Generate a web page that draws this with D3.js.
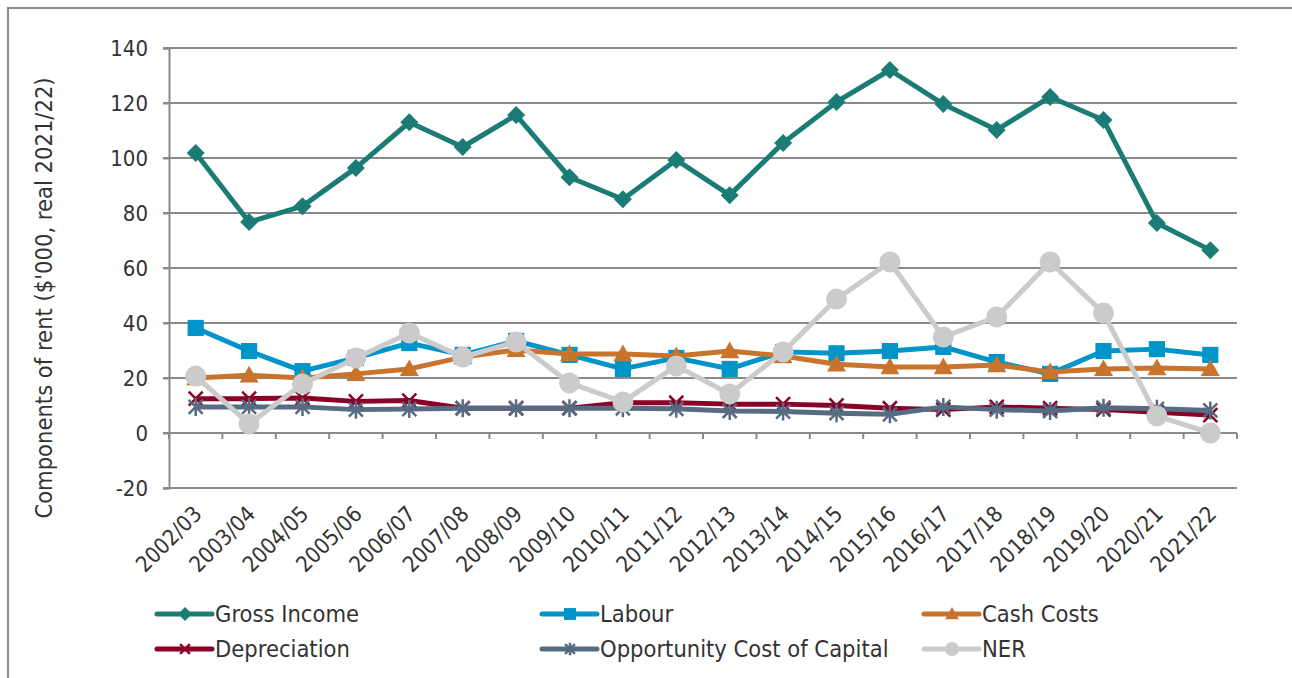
<!DOCTYPE html>
<html>
<head>
<meta charset="utf-8">
<script src="https://cdn.jsdelivr.net/npm/d3@7/dist/d3.min.js"></script>
<style>
  html, body { margin: 0; padding: 0; background: #fff; }
  svg { display: block; }
  text { font-family: "DejaVu Sans Condensed", "DejaVu Sans", sans-serif; fill: #333; }
</style>
</head>
<body>
<svg id="chart" width="1292" height="678"></svg>
<script>
// Financial years on the category axis
const years = ["2002/03","2003/04","2004/05","2005/06","2006/07","2007/08","2008/09","2009/10","2010/11","2011/12",
               "2012/13","2013/14","2014/15","2015/16","2016/17","2017/18","2018/19","2019/20","2020/21","2021/22"];

// Components of rent, $'000 real 2021/22
const grossIncome  = [101.8, 76.7, 82.5, 96.4, 113.0, 104.0, 115.6, 93.0, 85.0, 99.3, 86.5, 105.5, 120.4, 132.0, 119.6, 110.2, 122.2, 113.8, 76.4, 66.5];
const labour       = [38.2, 29.8, 22.5, 27.3, 32.7, 28.4, 33.5, 28.4, 23.3, 27.3, 23.3, 29.5, 29.0, 29.8, 31.3, 25.8, 21.5, 29.8, 30.5, 28.4];
const cashCosts    = [20.0, 21.0, 20.0, 21.5, 23.3, 27.6, 30.2, 28.7, 28.7, 28.0, 29.8, 28.0, 25.0, 24.0, 24.0, 24.7, 22.2, 23.3, 23.6, 23.3];
const depreciation = [12.5, 12.5, 12.7, 11.5, 11.8, 9.0, 9.0, 9.0, 11.0, 11.0, 10.5, 10.5, 10.0, 9.0, 8.5, 9.5, 9.0, 8.5, 7.5, 6.5];
const oppCost      = [9.5, 9.5, 9.5, 8.5, 8.7, 9.0, 9.0, 9.0, 9.0, 8.8, 8.0, 7.8, 7.2, 6.8, 9.5, 8.5, 8.0, 9.2, 8.8, 8.2];
const ner          = [20.7, 3.3, 17.8, 27.3, 36.4, 27.6, 33.1, 18.2, 11.3, 24.4, 14.2, 29.5, 48.7, 62.2, 34.9, 42.2, 62.2, 43.6, 6.2, 0.0];

// Value axis ticks
const yTicks = [-20, 0, 20, 40, 60, 80, 100, 120, 140];

const seriesNames = ["Gross Income", "Labour", "Cash Costs", "Depreciation", "Opportunity Cost of Capital", "NER"];

const series = [
  { name: seriesNames[0], values: grossIncome,  color: "#1b7c75", marker: "diamond" },
  { name: seriesNames[1], values: labour,       color: "#0094c9", marker: "square" },
  { name: seriesNames[2], values: cashCosts,    color: "#c8742c", marker: "triangle" },
  { name: seriesNames[3], values: depreciation, color: "#8b0027", marker: "x" },
  { name: seriesNames[4], values: oppCost,      color: "#566c83", marker: "star" },
  { name: seriesNames[5], values: ner,          color: "#cbcbcb", marker: "circle" }
];

const svg = d3.select("#chart");
const plot = { left: 169, right: 1237, top: 48, bottom: 488 };
const gridColor = "#8a8a8a";

// outer frame (left and top edges)
svg.append("path")
  .attr("d", `M8,678 L8,8 L1292,8`)
  .attr("fill", "none").attr("stroke", "#8c8c8c").attr("stroke-width", 2);

const x = d3.scaleBand().domain(years).range([plot.left, plot.right]);
const y = d3.scaleLinear().domain([-20, 140]).range([plot.bottom, plot.top]);

// horizontal gridlines
svg.append("g").selectAll("line").data(yTicks).join("line")
  .attr("x1", plot.left - 6).attr("x2", plot.right)
  .attr("y1", d => y(d)).attr("y2", d => y(d))
  .attr("stroke", gridColor).attr("stroke-width", 2);

// value axis
const yAxis = svg.append("g").attr("transform", `translate(${plot.left},0)`)
  .call(d3.axisLeft(y).tickValues(yTicks).tickSize(6).tickPadding(15).tickFormat(d => String(d)));
yAxis.select(".domain").attr("stroke", gridColor).attr("stroke-width", 2);
yAxis.selectAll(".tick line").attr("stroke", gridColor).attr("stroke-width", 2);
yAxis.selectAll(".tick text").style("font-size", "22px").attr("fill", "#333")
  .style("font-family", "'DejaVu Sans Condensed', sans-serif");

// category axis at zero, with tick marks between categories
const y0 = y(0);
svg.append("line").attr("x1", plot.left).attr("x2", plot.right).attr("y1", y0).attr("y2", y0)
  .attr("stroke", gridColor).attr("stroke-width", 2);
const boundaries = years.map(d => x(d)).concat([x(years[years.length - 1]) + x.bandwidth()]);
svg.append("g").selectAll("line").data(boundaries).join("line")
  .attr("x1", d => d).attr("x2", d => d).attr("y1", y0).attr("y2", y0 + 6)
  .attr("stroke", gridColor).attr("stroke-width", 2);

// rotated category labels under the plot
svg.append("g").selectAll("text").data(years).join("text")
  .attr("transform", d => `translate(${x(d) + x.bandwidth() / 2 + 2},${plot.bottom + 22}) rotate(-45)`)
  .attr("text-anchor", "end")
  .attr("dy", "0.35em")
  .style("font-size", "22px")
  .text(d => d);

// axis title
svg.append("text")
  .attr("transform", `translate(52,${(plot.top + plot.bottom) / 2 + 30}) rotate(-90)`)
  .attr("text-anchor", "middle")
  .style("font-size", "23.5px")
  .text("Components of rent ($'000, real 2021/22)");

// marker shapes
function markerPath(type, s) {
  switch (type) {
    case "diamond": return `M0,${-s}L${s},0L0,${s}L${-s},0Z`;
    case "square": return `M${-s*0.85},${-s*0.85}h${s*1.7}v${s*1.7}h${-s*1.7}Z`;
    case "triangle": return `M0,${-s}L${s},${s*0.75}L${-s},${s*0.75}Z`;
    case "x": return `M${-s*0.7},${-s*0.7}L${s*0.7},${s*0.7}M${-s*0.7},${s*0.7}L${s*0.7},${-s*0.7}`;
    case "star": return `M${-s*0.7},${-s*0.7}L${s*0.7},${s*0.7}M${-s*0.7},${s*0.7}L${s*0.7},${-s*0.7}M0,${-s*0.9}L0,${s*0.9}`;
  }
  return "";
}

function drawMarker(g, type, color, s) {
  if (type === "circle") {
    g.append("circle").attr("r", s).attr("fill", color);
  } else if (type === "x" || type === "star") {
    g.append("path").attr("d", markerPath(type, s)).attr("fill", "none")
      .attr("stroke", color).attr("stroke-width", 2.5);
  } else {
    g.append("path").attr("d", markerPath(type, s)).attr("fill", color);
  }
}

const line = d3.line()
  .x((d, i) => x(years[i]) + x.bandwidth() / 2)
  .y(d => y(d));

series.forEach(s => {
  const g = svg.append("g");
  g.append("path").datum(s.values).attr("d", line)
    .attr("fill", "none").attr("stroke", s.color).attr("stroke-width", 5)
    .attr("stroke-linejoin", "round");
  const sizes = { diamond: 9, square: 9.5, triangle: 9.5, x: 10, star: 10, circle: 10.5 };
  s.values.forEach((v, i) => {
    const m = g.append("g").attr("transform", `translate(${x(years[i]) + x.bandwidth() / 2},${y(v)})`);
    drawMarker(m, s.marker, s.color, sizes[s.marker]);
  });
});

// legend: three columns, two rows
const legendCols = [155, 540, 922];
const legendRows = [614, 649];
series.forEach((s, i) => {
  const lx = legendCols[i % 3], ly = legendRows[Math.floor(i / 3)];
  const g = svg.append("g").attr("transform", `translate(${lx},${ly})`);
  g.append("line").attr("x1", 2).attr("x2", 57).attr("y1", 0).attr("y2", 0)
    .attr("stroke", s.color).attr("stroke-width", 5).attr("stroke-linecap", "round");
  const m = g.append("g").attr("transform", "translate(30,0)");
  drawMarker(m, s.marker, s.color, 7);
  g.append("text").attr("x", 60).attr("dy", "0.36em").style("font-size", "23.5px").text(s.name);
});
</script>
</body>
</html>
